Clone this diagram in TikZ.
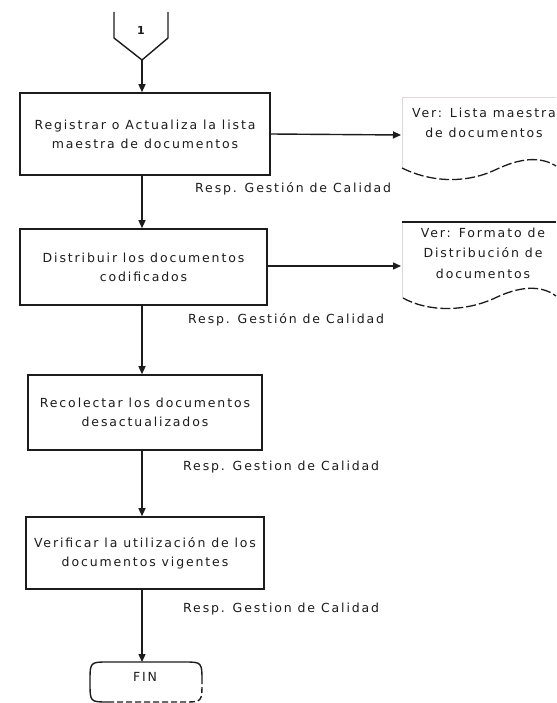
\documentclass[tikz,border=0pt]{standalone}
\usepackage{fontspec}
\setmainfont{DejaVu Sans}
\newfontfamily\widefont[LetterSpace=15]{DejaVu Sans}
\usetikzlibrary{arrows.meta}
\definecolor{ink}{HTML}{1C1C1C}
\definecolor{faint}{HTML}{E2D6DA}
\tikzset{
  procbox/.style={draw=ink, line width=1.6pt, fill=white, inner sep=2pt,
    align=center, font=\widefont\fontsize{12.5}{19}\selectfont, text=ink},
  flow/.style={draw=ink, line width=1.4pt, -{Triangle[length=8pt,width=7pt]}},
  resp/.style={font=\widefont\fontsize{12.5}{14}\selectfont, text=ink, anchor=west, inner sep=0pt},
  doctext/.style={font=\widefont\fontsize{12.5}{20.5}\selectfont, text=ink, align=center, inner sep=0pt},
  wave/.style={draw=ink, line width=1.3pt, dash pattern=on 10pt off 3pt}
}
\begin{document}
\begin{tikzpicture}[x=1pt,y=-1pt]
\useasboundingbox (0,0) rectangle (556,703);

% off-page connector "1"
\draw[ink, line width=1.4pt] (114,12) -- (114,38) -- (142,60) -- (168,38) -- (168,12);
\coordinate (c1) at (142,60);
\node[font=\bfseries\fontsize{11}{12}\selectfont, text=ink] (n1) at (141,30) {1};

% process steps
\node[procbox, minimum width=250pt, minimum height=82pt] (s1) at (145,134)
  {Registrar o Actualiza la lista\\maestra de documentos};
\node[procbox, minimum width=247pt, minimum height=76pt] (s2) at (143.5,267)
  {Distribuir los documentos\\codificados};
\node[procbox, minimum width=234pt, minimum height=75pt] (s3) at (145,412.5)
  {Recolectar los documentos\\desactualizados};
\node[procbox, minimum width=238pt, minimum height=72pt] (s4) at (145,553)
  {Verificar la utilización de los\\documentos vigentes};

% responsible labels
\node[resp] (r1) at (195,189) {Resp. Gestión de Calidad};
\node[resp] (r2) at (188,320) {Resp. Gestión de Calidad};
\node[resp] (r3) at (183,467) {Resp. Gestion de Calidad};
\node[resp] (r4) at (183,609) {Resp. Gestion de Calidad};

% terminal
\draw[ink, line width=1.4pt] (202,682) .. controls (202,662) .. (184,662) -- (108,662)
  .. controls (90,662) .. (90,682) .. controls (90,702) .. (108,702);
\draw[ink, line width=1.4pt, dash pattern=on 6pt off 3pt] (108,702) -- (184,702)
  .. controls (202,702) .. (202,682);
\node[font=\widefont\fontsize{12.5}{14}\selectfont, text=ink] (fin) at (145,677) {FIN};
\coordinate (finTop) at (143,662);

% documents on the right
\draw[faint, line width=0.9pt] (402,97) -- (402,168);
\draw[faint, line width=0.9pt] (402,97) -- (556,97);
\draw[wave] (402,168) .. controls (430,182) and (465,184) .. (495,170)
  .. controls (520,158) and (540,156) .. (556,166);
\coordinate (d1) at (401,135);
\node[doctext] (t1) at (484,123) {Ver: Lista maestra\\de documentos};

\draw[faint, line width=0.9pt] (402,222) -- (402,298);
\draw[ink, line width=1.2pt] (402,222) -- (556,222);
\draw[wave] (403,298) .. controls (428,312) and (465,312) .. (495,298)
  .. controls (518,287) and (540,284) .. (556,296);
\coordinate (d2) at (401,266);
\node[doctext] (t2) at (483,253) {Ver: Formato de\\Distribución de\\documentos};

% connectors
\draw[flow] (c1) -- (s1.north -| c1);
\draw[flow] (s1.south -| c1) -- (s2.north -| c1);
\draw[flow] (s2.south -| c1) -- (s3.north -| c1);
\draw[flow] (s3.south -| c1) -- (s4.north -| c1);
\draw[flow] (s4.south -| c1) -- (finTop -| c1);
\draw[flow] (s1.east) -- (d1);
\draw[flow] (s2.east |- d2) -- (d2);
\end{tikzpicture}
\end{document}
